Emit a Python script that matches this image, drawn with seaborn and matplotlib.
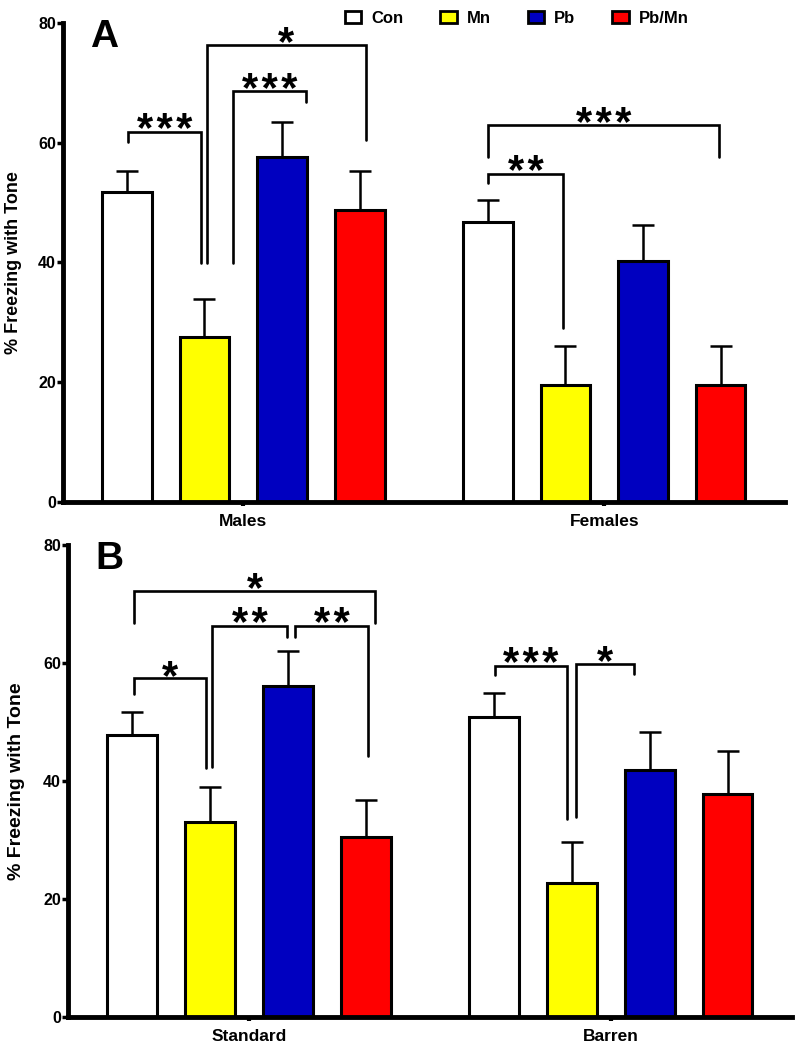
import numpy as np
import pandas as pd
import matplotlib
matplotlib.use("Agg")
import matplotlib.pyplot as plt
from matplotlib.patches import Patch
import seaborn as sns

# groups and treatments
treatments = ["Con", "Mn", "Pb", "Pb/Mn"]
colors = ["#ffffff", "#ffff00", "#0000c0", "#ff0000"]

groups_a = ["Males", "Females"]
males_mean = [51.8, 27.6, 57.6, 48.8]
males_sem = [3.5, 6.3, 5.8, 6.5]
females_mean = [46.8, 19.6, 40.3, 19.6]
females_sem = [3.6, 6.4, 5.9, 6.4]

groups_b = ["Standard", "Barren"]
standard_mean = [47.8, 33.0, 56.1, 30.5]
standard_sem = [3.9, 5.9, 5.9, 6.2]
barren_mean = [50.8, 22.6, 41.9, 37.8]
barren_sem = [4.1, 7.1, 6.3, 7.3]

# significance brackets: x left, x right, bar y, left leg end, right leg end, label
brackets_a = [
    (-0.318, -0.118, 61.8, 60.2, 39.9, "***"),
    (-0.029, 0.173, 68.6, 39.9, 66.8, "***"),
    (-0.101, 0.339, 76.4, 39.9, 60.5, "*"),
    (0.678, 0.886, 54.8, 53.3, 29.1, "**"),
    (0.678, 1.319, 62.9, 57.6, 57.6, "***"),
]
brackets_b = [
    (-0.317, 0.348, 72.2, 66.7, 66.7, "*"),
    (-0.103, 0.106, 66.3, 42.4, 64.4, "**"),
    (0.128, 0.328, 66.3, 64.4, 44.2, "**"),
    (-0.317, -0.120, 57.4, 54.7, 42.2, "*"),
    (0.679, 0.878, 59.5, 57.9, 33.5, "***"),
    (0.904, 1.063, 59.8, 33.9, 58.1, "*"),
]

sns.set_style("ticks")
plt.rcParams["font.family"] = ["Liberation Sans", "DejaVu Sans"]
plt.rcParams["font.weight"] = "bold"
for key in ["text.color", "axes.labelcolor", "xtick.color", "ytick.color", "axes.edgecolor"]:
    plt.rcParams[key] = "black"


def make_df(groups, means, sems):
    rows = []
    for g, m, s in zip(groups, means, sems):
        for t, v, e in zip(treatments, m, s):
            rows.append({"group": g, "treatment": t, "value": v, "sem": e})
    return pd.DataFrame(rows)


def draw_panel(ax, df, groups, brackets, letter, ylab_size):
    sns.barplot(data=df, x="group", y="value", hue="treatment", order=groups,
                hue_order=treatments, palette=colors, width=0.86, gap=0.36,
                edgecolor="black", linewidth=2.2, errorbar=None, legend=False,
                saturation=1, ax=ax)
    # error bars (upper only)
    for bars, t in zip(ax.containers, treatments):
        sub = df[df["treatment"] == t].set_index("group").loc[groups]
        xs = [b.get_x() + b.get_width() / 2 for b in bars]
        ax.errorbar(xs, sub["value"], yerr=[np.zeros(len(xs)), sub["sem"]],
                    fmt="none", ecolor="black", elinewidth=1.8, capsize=8,
                    capthick=1.8, zorder=1)
    for xl, xr, y, yl, yr, lab in brackets:
        ax.plot([xl, xl, xr, xr], [yl, y, y, yr], color="black", lw=1.9,
                solid_joinstyle="miter", clip_on=False)
        ax.annotate("\u200a".join(lab), ((xl + xr) / 2, y), xytext=(0, -7.5),
                    textcoords="offset points", ha="center", va="baseline",
                    fontsize=30, fontweight="bold", annotation_clip=False)
    ax.set_ylim(0, 80)
    ax.set_xlim(-0.5, 1.5)
    ax.set_yticks([0, 20, 40, 60, 80])
    ax.set_xlabel("")
    ax.set_ylabel("% Freezing with Tone", fontsize=ylab_size, fontweight="bold")
    ax.tick_params(axis="y", labelsize=11.5, width=2.5, length=4, pad=1)
    ax.tick_params(axis="x", labelsize=12.5, width=3, length=3, pad=6)
    for lbl in ax.get_xticklabels() + ax.get_yticklabels():
        lbl.set_fontweight("bold")
    sns.despine(ax=ax)
    ax.spines["left"].set_linewidth(3.5)
    ax.spines["bottom"].set_linewidth(3.5)
    ax.text(-0.385, 77.6, letter, fontsize=28, fontweight="bold",
            ha="center", va="center")


fig = plt.figure(figsize=(7.95, 10.5), dpi=100)
ax_a = fig.add_axes([0.079, 0.522, 0.908, 0.456])
ax_b = fig.add_axes([0.0855, 0.0317, 0.9105, 0.4493])

df_a = make_df(groups_a, [males_mean, females_mean], [males_sem, females_sem])
df_b = make_df(groups_b, [standard_mean, barren_mean], [standard_sem, barren_sem])

draw_panel(ax_a, df_a, groups_a, brackets_a, "A", 13)
draw_panel(ax_b, df_b, groups_b, brackets_b, "B", 14)
ax_a.yaxis.set_label_coords(-0.056, 0.5)
ax_b.yaxis.set_label_coords(-0.06, 0.5)

handles = [Patch(facecolor=c, edgecolor="black", linewidth=2) for c in colors]
fig.legend(handles, treatments, loc="upper center", bbox_to_anchor=(0.65, 1.004),
           ncol=4, frameon=False, handlelength=1.0, handleheight=0.7,
           handletextpad=0.6, columnspacing=2.2,
           prop={"size": 12, "weight": "bold"})

fig.savefig("out.png", dpi=100)
